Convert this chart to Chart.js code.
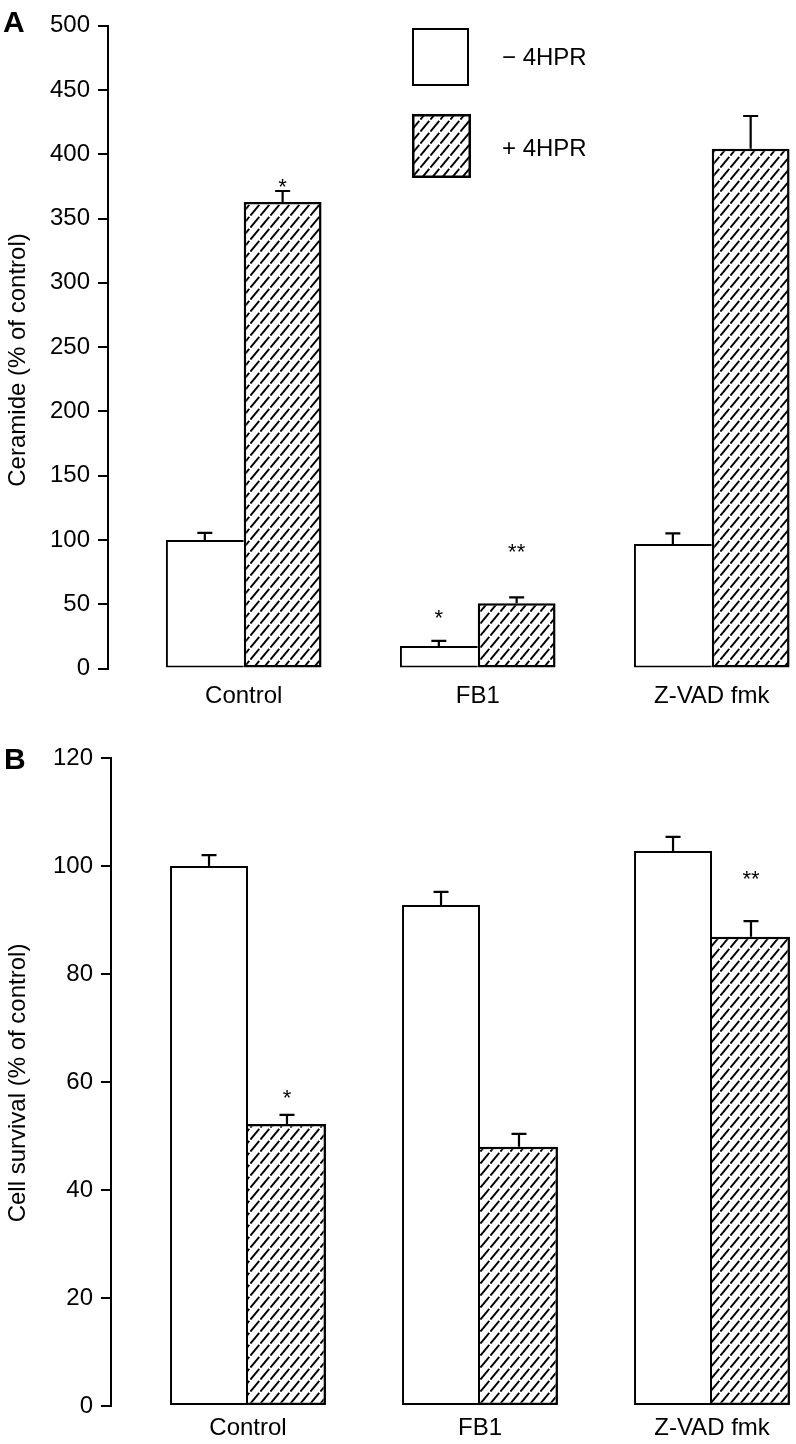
<!DOCTYPE html>
<html><head><meta charset="utf-8">
<script src="https://cdn.jsdelivr.net/npm/chart.js@4.4.1/dist/chart.umd.min.js"></script>
<style>
html,body{margin:0;padding:0;background:#fff;}
#wrap{position:relative;width:796px;height:1444px;overflow:hidden;}
canvas{position:absolute;left:0;}
#cA{top:0;}
#cB{top:720px;}
</style></head><body>
<div id="wrap"><canvas id="cA" width="796" height="720"></canvas><canvas id="cB" width="796" height="724"></canvas></div>
<script>
// ---------- data ----------
const categories = ['Control', 'FB1', 'Z-VAD fmk'];
const seriesLabels = ['\u2212 4HPR', '+ 4HPR'];

const ceramideMinus    = [100, 17.6, 96.9];
const ceramideMinusErr = [105.5, 21.5, 105.2];
const ceramidePlus     = [362.8, 50.8, 404.3];
const ceramidePlusErr  = [371.4, 55.4, 429.7];
const ceramideTicks    = [0, 50, 100, 150, 200, 250, 300, 350, 400, 450, 500];
const ceramideSigMinus = ['', '*', ''];
const ceramideSigMinusAt = [null, 44.2, null];
const ceramideSigPlus  = ['*', '**', ''];
const ceramideSigPlusAt  = [378.6, 94.8, null];

const survivalMinus    = [100, 92.8, 102.8];
const survivalMinusErr = [102.0, 95.2, 105.4];
const survivalPlus     = [52.2, 48.0, 86.9];
const survivalPlusErr  = [53.9, 50.4, 89.8];
const survivalTicks    = [0, 20, 40, 60, 80, 100, 120];
const survivalSigMinus = ['', '', ''];
const survivalSigMinusAt = [null, null, null];
const survivalSigPlus  = ['*', '', '**'];
const survivalSigPlusAt  = [58.1, null, 98.6];

// ---------- styles ----------
const FONT = "'Liberation Sans', Arial, Helvetica, sans-serif";

function makeHatch() {
  const t = document.createElement('canvas');
  t.width = 10; t.height = 12;
  const c = t.getContext('2d');
  c.fillStyle = '#fff'; c.fillRect(0, 0, 10, 12);
  c.strokeStyle = '#000'; c.lineWidth = 2; c.lineCap = 'butt';
  c.beginPath();
  c.moveTo(0.4, 11.5); c.lineTo(9.3, 0.8);
  c.stroke();
  return document.getElementById('cA').getContext('2d').createPattern(t, 'repeat');
}
const hatch = makeHatch();

const errorBars = {
  id: 'errorBars',
  afterDatasetsDraw(chart) {
    const ctx = chart.ctx, ys = chart.scales.y;
    ctx.save();
    ctx.strokeStyle = '#000'; ctx.lineWidth = 2.2;
    chart.data.datasets.forEach((ds, di) => {
      chart.getDatasetMeta(di).data.forEach((bar, i) => {
        const top = ys.getPixelForValue(ds.errTop[i]);
        ctx.beginPath();
        ctx.moveTo(bar.x, bar.y); ctx.lineTo(bar.x, top);
        ctx.moveTo(bar.x - 7.5, top); ctx.lineTo(bar.x + 7.5, top);
        ctx.stroke();
      });
    });
    ctx.restore();
  }
};

const sigMarks = {
  id: 'sigMarks',
  afterDatasetsDraw(chart) {
    const ctx = chart.ctx, ys = chart.scales.y;
    ctx.save();
    ctx.fillStyle = '#000'; ctx.font = '22px ' + FONT;
    ctx.textAlign = 'center'; ctx.textBaseline = 'alphabetic';
    chart.data.datasets.forEach((ds, di) => {
      chart.getDatasetMeta(di).data.forEach((bar, i) => {
        if (!ds.sig[i]) return;
        const y = ys.getPixelForValue(ds.sigAt[i]);
        ctx.fillText(ds.sig[i], bar.x, y + 0.58 * 22);
      });
    });
    ctx.restore();
  }
};

const decor = {
  id: 'decor',
  afterDraw(chart, args, o) {
    const ctx = chart.ctx;
    ctx.save();
    ctx.fillStyle = '#000';
    // panel letter
    ctx.font = 'bold 30px ' + FONT;
    ctx.textAlign = 'left'; ctx.textBaseline = 'alphabetic';
    ctx.fillText(o.letter, o.letterX, o.letterY);
    // y title
    ctx.font = '24px ' + FONT;
    ctx.translate(o.titleX, o.titleY);
    ctx.rotate(-Math.PI / 2);
    ctx.textAlign = 'center'; ctx.textBaseline = 'middle';
    ctx.fillText(o.title, 0, 0);
    ctx.restore();
    if (o.legend) {
      ctx.save();
      chart.data.datasets.forEach((ds, di) => {
        const b = o.legend[di];
        ctx.fillStyle = ds.backgroundColor;
        ctx.fillRect(b.x, b.y, b.w, b.h);
        ctx.strokeStyle = '#000'; ctx.lineWidth = b.lw;
        ctx.strokeRect(b.x + b.lw / 2, b.y + b.lw / 2, b.w - b.lw, b.h - b.lw);
        ctx.fillStyle = '#000'; ctx.font = '24px ' + FONT;
        ctx.textAlign = 'left'; ctx.textBaseline = 'alphabetic';
        ctx.fillText(ds.label, b.tx, b.ty);
      });
      ctx.restore();
    }
  }
};

function build(canvasId, p) {
  const datasets = [
    {
      label: seriesLabels[0],
      data: p.minus.map((v, i) => ({ x: i, y: v })),
      errTop: p.minusErr, sig: p.sigMinus, sigAt: p.sigMinusAt,
      backgroundColor: '#ffffff', borderColor: '#000',
      borderWidth: c => ({ top: 2, left: 2, bottom: 2, right: p.minus[c.dataIndex] >= p.plus[c.dataIndex] ? 2 : 0 }),
      borderSkipped: false, inflateAmount: 0
    },
    {
      label: seriesLabels[1],
      data: p.plus.map((v, i) => ({ x: i, y: v })),
      errTop: p.plusErr, sig: p.sigPlus, sigAt: p.sigPlusAt,
      backgroundColor: hatch, borderColor: '#000',
      borderWidth: c => ({ top: 2.5, right: 2.5, bottom: 2.5, left: p.plus[c.dataIndex] > p.minus[c.dataIndex] ? 2.5 : 0 }),
      borderSkipped: false, inflateAmount: 0
    }
  ];
  return new Chart(document.getElementById(canvasId), {
    type: 'bar',
    data: { datasets },
    options: {
      responsive: false, animation: false, devicePixelRatio: 1,
      categoryPercentage: p.catPct, barPercentage: 1,
      layout: { padding: { top: p.padTop, left: 0, right: 0, bottom: 0 } },
      plugins: { legend: { display: false }, tooltip: { enabled: false }, decor: p.decor },
      scales: {
        x: {
          type: 'linear', min: p.xMin, max: p.xMax, offset: false,
          grid: { display: false, drawTicks: false, offset: false },
          border: { display: false },
          afterBuildTicks: s => { s.ticks = categories.map((_, i) => ({ value: i })); },
          ticks: { callback: v => categories[v], font: { family: FONT, size: 24 }, color: '#000',
                   padding: p.labelPad, maxRotation: 0, autoSkip: false },
          afterFit: s => { s.height = p.xHeight; }
        },
        y: {
          min: 0, max: p.ticks[p.ticks.length - 1], position: 'left',
          afterBuildTicks: s => { s.ticks = p.ticks.map(v => ({ value: v })); },
          grid: { drawOnChartArea: false, drawTicks: true, tickLength: 10, color: '#000', lineWidth: 2 },
          border: { display: true, color: '#000', width: 2 },
          ticks: { font: { family: FONT, size: 24 }, color: '#000', padding: 8 },
          afterFit: s => { s.width = p.axisLeft; }
        }
      }
    },
    plugins: [errorBars, sigMarks, decor]
  });
}

build('cA', {
  minus: ceramideMinus, minusErr: ceramideMinusErr, plus: ceramidePlus, plusErr: ceramidePlusErr,
  sigMinus: ceramideSigMinus, sigMinusAt: ceramideSigMinusAt, sigPlus: ceramideSigPlus, sigPlusAt: ceramideSigPlusAt,
  ticks: ceramideTicks,
  axisLeft: 108, padTop: 25.6, xHeight: 51.4, labelPad: 13,
  xMin: -0.58, xMax: 2.36, catPct: 0.665,
  decor: {
    letter: 'A', letterX: 3, letterY: 32,
    title: 'Ceramide (% of control)', titleX: 18, titleY: 360,
    legend: [
      { x: 412, y: 28, w: 57, h: 58, lw: 2, tx: 502, ty: 65 },
      { x: 412, y: 114, w: 59, h: 64, lw: 2.5, tx: 502, ty: 155.7 }
    ]
  }
});

build('cB', {
  minus: survivalMinus, minusErr: survivalMinusErr, plus: survivalPlus, plusErr: survivalPlusErr,
  sigMinus: survivalSigMinus, sigMinusAt: survivalSigMinusAt, sigPlus: survivalSigPlus, sigPlusAt: survivalSigPlusAt,
  ticks: survivalTicks,
  axisLeft: 111, padTop: 38, xHeight: 38, labelPad: 8,
  xMin: -0.5905, xMax: 2.362, catPct: 0.672,
  decor: {
    letter: 'B', letterX: 4, letterY: 49,
    title: 'Cell survival (% of control)', titleX: 18, titleY: 363,
    legend: null
  }
});
</script>
</body></html>
